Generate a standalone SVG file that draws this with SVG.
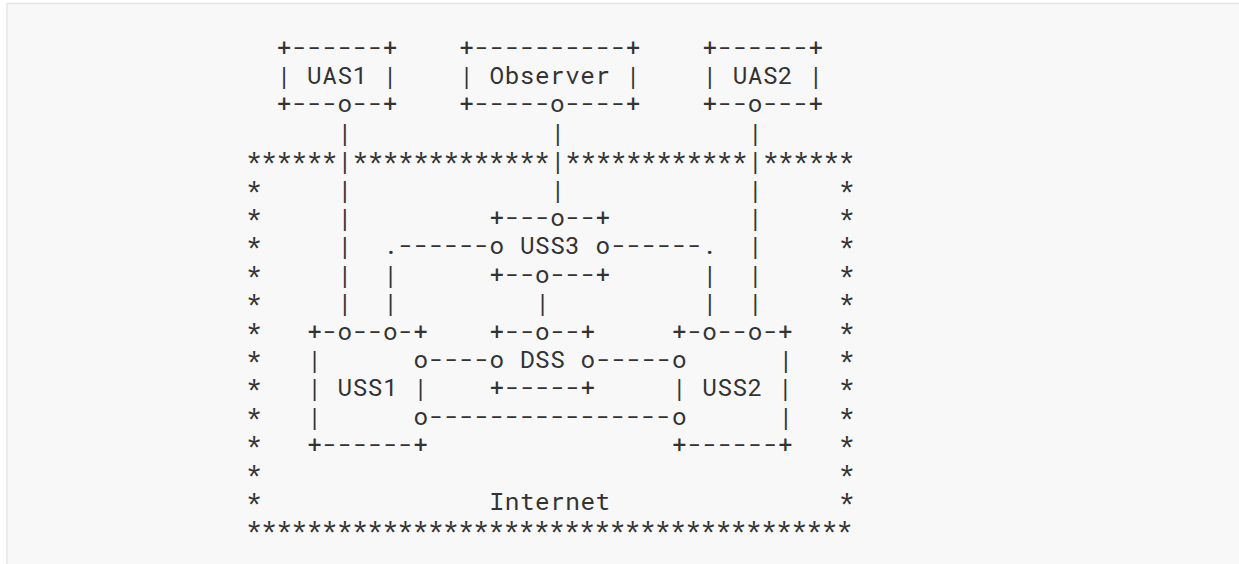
<svg xmlns="http://www.w3.org/2000/svg" width="1239" height="564" viewBox="0 0 1239 564" xml:space="preserve">
<style>
text { font-family: "Roboto Mono", "DejaVu Sans Mono", monospace; font-size: 24.4px; letter-spacing: 0.51px; fill: #333333; white-space: pre; }
</style>
<rect x="0" y="0" width="1239" height="564" fill="#ffffff"/>
<rect x="7" y="3.5" width="1260" height="600" fill="#f8f8f8" stroke="#e6e6e6" stroke-width="1.5"/>

<g id="internet">
<text x="246.4" y="169.2">******</text>
<text x="352.8" y="169.2">*************</text>
<text x="565.6" y="169.2">************</text>
<text x="763.2" y="169.2">******</text>
<text><tspan x="246.4" y="197.6">*</tspan><tspan x="246.4" y="226">*</tspan><tspan x="246.4" y="254.4">*</tspan><tspan x="246.4" y="282.8">*</tspan><tspan x="246.4" y="311.2">*</tspan><tspan x="246.4" y="339.6">*</tspan><tspan x="246.4" y="368">*</tspan><tspan x="246.4" y="396.4">*</tspan><tspan x="246.4" y="424.8">*</tspan><tspan x="246.4" y="453.2">*</tspan><tspan x="246.4" y="481.6">*</tspan><tspan x="246.4" y="510">*</tspan></text>
<text><tspan x="839.2" y="197.6">*</tspan><tspan x="839.2" y="226">*</tspan><tspan x="839.2" y="254.4">*</tspan><tspan x="839.2" y="282.8">*</tspan><tspan x="839.2" y="311.2">*</tspan><tspan x="839.2" y="339.6">*</tspan><tspan x="839.2" y="368">*</tspan><tspan x="839.2" y="396.4">*</tspan><tspan x="839.2" y="424.8">*</tspan><tspan x="839.2" y="453.2">*</tspan><tspan x="839.2" y="481.6">*</tspan><tspan x="839.2" y="510">*</tspan></text>
<text x="489.6" y="510">Internet</text>
<text x="246.4" y="538.4">****************************************</text>
</g>

<g id="uas1">
<text x="276.8" y="55.6">+------+</text>
<text x="276.8" y="84">| UAS1 |</text>
<text x="276.8" y="112.4">+---o--+</text>
</g>

<g id="observer">
<text x="459.2" y="55.6">+----------+</text>
<text x="459.2" y="84">| Observer |</text>
<text x="459.2" y="112.4">+-----o----+</text>
</g>

<g id="uas2">
<text x="702.4" y="55.6">+------+</text>
<text x="702.4" y="84">| UAS2 |</text>
<text x="702.4" y="112.4">+--o---+</text>
</g>

<g id="uss3">
<text x="489.6" y="226">+---o--+</text>
<text x="489.6" y="254.4">o USS3 o</text>
<text x="489.6" y="282.8">+--o---+</text>
</g>

<g id="dss">
<text x="489.6" y="339.6">+--o--+</text>
<text x="489.6" y="368">o DSS o</text>
<text x="489.6" y="396.4">+-----+</text>
</g>

<g id="uss1">
<text x="307.2" y="339.6">+-o--o-+</text>
<text x="307.2" y="368">|</text>
<text x="413.6" y="368">o</text>
<text x="307.2" y="396.4">| USS1 |</text>
<text x="307.2" y="424.8">|</text>
<text x="413.6" y="424.8">o</text>
<text x="307.2" y="453.2">+------+</text>
</g>

<g id="uss2">
<text x="672" y="339.6">+-o--o-+</text>
<text x="672" y="368">o</text>
<text x="778.4" y="368">|</text>
<text x="672" y="396.4">| USS2 |</text>
<text x="672" y="424.8">o</text>
<text x="778.4" y="424.8">|</text>
<text x="672" y="453.2">+------+</text>
</g>

<g id="connectors">
<text><tspan x="337.6" y="140.8">|</tspan><tspan x="337.6" y="169.2">|</tspan><tspan x="337.6" y="197.6">|</tspan><tspan x="337.6" y="226">|</tspan><tspan x="337.6" y="254.4">|</tspan><tspan x="337.6" y="282.8">|</tspan><tspan x="337.6" y="311.2">|</tspan></text>
<text><tspan x="550.4" y="140.8">|</tspan><tspan x="550.4" y="169.2">|</tspan><tspan x="550.4" y="197.6">|</tspan></text>
<text><tspan x="748" y="140.8">|</tspan><tspan x="748" y="169.2">|</tspan><tspan x="748" y="197.6">|</tspan><tspan x="748" y="226">|</tspan><tspan x="748" y="254.4">|</tspan><tspan x="748" y="282.8">|</tspan><tspan x="748" y="311.2">|</tspan></text>
<text x="383.2" y="254.4">.------</text>
<text><tspan x="383.2" y="282.8">|</tspan><tspan x="383.2" y="311.2">|</tspan></text>
<text x="611.2" y="254.4">------.</text>
<text><tspan x="702.4" y="282.8">|</tspan><tspan x="702.4" y="311.2">|</tspan></text>
<text x="535.2" y="311.2">|</text>
<text x="428.8" y="368">----</text>
<text x="596" y="368">-----</text>
<text x="428.8" y="424.8">----------------</text>
</g>
</svg>
